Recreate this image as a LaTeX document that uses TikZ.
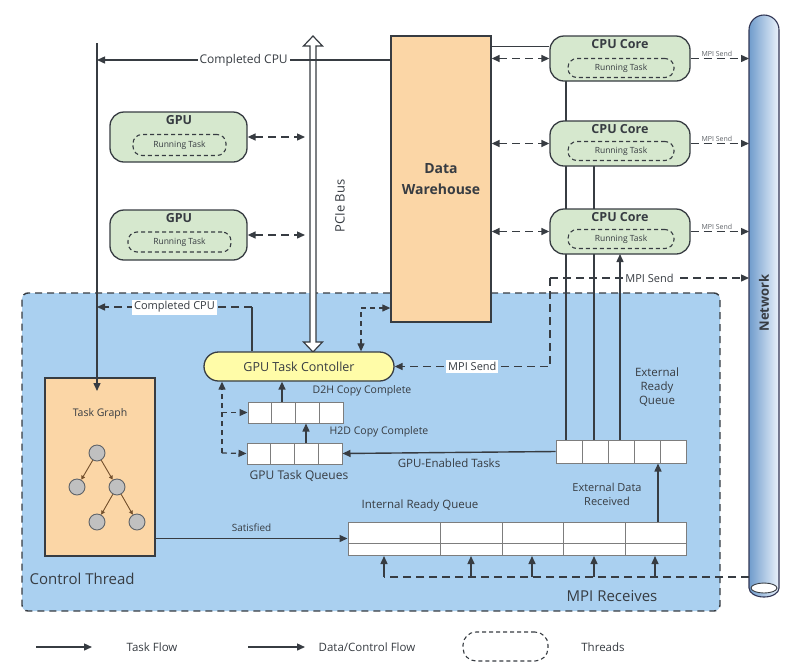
\documentclass[tikz,border=0pt]{standalone}
\usepackage{fontspec}
\setmainfont{Open Sans}
\usetikzlibrary{arrows.meta,calc}
\definecolor{regionblue}{RGB}{170,208,240}
\definecolor{peach}{RGB}{251,214,166}
\definecolor{corefill}{RGB}{214,232,206}
\definecolor{gtcfill}{RGB}{255,252,168}
\definecolor{ink}{RGB}{55,60,66}
\definecolor{cellgray}{RGB}{125,125,125}
\definecolor{netdark}{RGB}{112,156,204}
\definecolor{netlight}{RGB}{234,242,251}
\definecolor{treebrown}{RGB}{115,80,45}
\definecolor{nodegray}{RGB}{192,192,192}
\newcommand\myfs[1]{\fontsize{#1}{\fpeval{1.25*#1}}\selectfont}
\tikzset{
  dashline/.style={dashed, dash pattern=on 8pt off 5pt, line width=1.4pt},
  dashfine/.style={dashed, dash pattern=on 5pt off 4pt, line width=1.2pt},
  procbox/.style={draw=ink, line width=1.3pt, fill=corefill, rounded corners=14pt, inner sep=0pt},
  threadbox/.style={draw=ink, dashed, dash pattern=on 4pt off 3pt, line width=1.1pt, rounded corners=9pt, inner sep=0pt, font=\myfs{8.5}},
  titletext/.style={font=\bfseries\myfs{12.5}, inner sep=0pt},
  qbox/.style={draw=cellgray, line width=1pt, fill=white, inner sep=0pt},
  whitelbl/.style={fill=white, inner sep=2pt},
  tinylbl/.style={font=\myfs{7}, inner sep=1pt, text=ink!80},
  treenode/.style={circle, draw=ink!80, line width=0.9pt, fill=nodegray, minimum size=16pt, inner sep=0pt},
  treeedge/.style={draw=treebrown, line width=0.9pt, -{Triangle[length=4pt,width=4pt]}},
}
\begin{document}
\begin{tikzpicture}[x=1pt,y=-1pt, >={Triangle[length=8pt,width=7pt]}, line width=1.4pt, color=ink]
\useasboundingbox (0,0) rectangle (795,665);

% control thread region
\node[draw=ink, fill=regionblue, dashed, dash pattern=on 7pt off 5pt, line width=1.4pt, rounded corners=6pt, minimum width=698pt, minimum height=318pt, inner sep=0pt] (region) at (371,452) {};
\node[anchor=west, font=\myfs{15}, inner sep=0pt] (ctlabel) at (29,579) {Control Thread};
\node[font=\myfs{15}, inner sep=0pt] (mpirlabel) at (612,596) {MPI Receives};

% data warehouse
\node[draw=ink, fill=peach, line width=1.3pt, minimum width=100pt, minimum height=286pt, inner sep=0pt, align=center, font=\bfseries\myfs{14}] (dw) at (441,179) {Data\\[4pt]Warehouse};

% network tube
\path[draw=ink!90!blue, line width=1.1pt, left color=netdark, right color=netlight]
  (749,30) arc[start angle=180, end angle=360, radius=15] -- (779,588)
  arc[start angle=0, end angle=180, x radius=15, y radius=9] -- cycle;
\draw[line width=0.9pt, fill=white] (764,588) ellipse[x radius=13, y radius=5];
\node[rotate=90, font=\bfseries\myfs{13}] (netlabel) at (764,303) {Network};
\coordinate (netx) at (749,0);

% PCIe bus
\path[draw=ink, fill=white, line width=1.2pt]
  (313,36) -- (322.5,46) -- (316,46) -- (316,342) -- (322.5,342) -- (313,352)
  -- (303.5,342) -- (310,342) -- (310,46) -- (303.5,46) -- cycle;
\coordinate (bus) at (305,0);
\node[rotate=90, font=\myfs{13}] (buslabel) at (340,206) {PCIe Bus};

% GPUs
\node[procbox, minimum width=137pt, minimum height=50pt] (gpu1) at (178.5,137) {};
\node[titletext] (gpu1t) at (179,120) {GPU};
\node[threadbox, minimum width=93pt, minimum height=21pt] (gpu1r) at (179.5,145) {Running Task};
\node[procbox, minimum width=137pt, minimum height=50pt] (gpu2) at (178.5,235) {};
\node[titletext] (gpu2t) at (179,218) {GPU};
\node[threadbox, minimum width=103pt, minimum height=20pt] (gpu2r) at (179.5,242) {Running Task};
\draw[dashline, <->] (gpu1.east) -- (gpu1.east -| bus);
\draw[dashline, <->] (gpu2.east) -- (gpu2.east -| bus);

% vertical lines from CPU cores to external ready queue (behind cores)
\node[qbox, minimum width=130pt, minimum height=23pt] (erq) at (621,451.5) {};
\foreach \x in {582,608,634,660} \draw[cellgray, line width=1pt] (\x,440) -- (\x,463);
\coordinate (l1) at (566,81);
\coordinate (l2) at (594,166);
\coordinate (l3) at (620,254);
\draw (l1) -- (l1 |- erq.north);
\draw (l2) -- (l2 |- erq.north);
\draw[->] (l3 |- erq.north) -- (l3);

% CPU cores
\foreach \i/\y/\r in {1/58.5/68, 2/143.5/151, 3/231.5/239}{
  \node[procbox, minimum width=140pt, minimum height=45pt] (core\i) at (620,\y) {};
  \node[titletext] (core\i t) at (620,\y-14.5) {CPU Core};
  \node[threadbox, minimum width=106pt, minimum height=19pt] (core\i r) at (621,\r) {Running Task};
  \draw[dashline, <->] (core\i.west -| dw.east) -- (core\i.west);
  \draw[dashline, ->] (core\i.east) -- node[tinylbl, above, pos=0.45] {MPI Send} (core\i.east -| netx);
}
\draw ($(dw.north east)+(0,11)$) -- ($(core1.north west)+(0,11)$);

% MPI send path from GTC / network
\coordinate (mpis) at (550,278);

% GPU task controller
\node[draw=ink, line width=1.3pt, fill=gtcfill, rounded corners=14.5pt, minimum width=190pt, minimum height=29pt, font=\myfs{12.5}] (gtc) at (299,366.5) {GPU Task Contoller};

\draw[dashline, ->] (mpis) -- node[whitelbl, pos=0.5, font=\myfs{11}] {MPI Send} (mpis -| netx);
\draw[dashline, ->] (mpis) |- node[whitelbl, pos=0.75, font=\myfs{11}] {MPI Send} (gtc.east);

% task graph
\node[draw=ink, fill=peach, line width=1.3pt, minimum width=110pt, minimum height=178pt, inner sep=0pt] (tg) at (100,467) {};
\node[font=\myfs{10.5}] (tgl) at (100,414) {Task Graph};
\node[treenode] (t1) at (97,453) {};
\node[treenode] (t2) at (77,487) {};
\node[treenode] (t3) at (117,487) {};
\node[treenode] (t4) at (97,522) {};
\node[treenode] (t5) at (137,522) {};
\draw[treeedge] (t1) -- (t2);
\draw[treeedge] (t1) -- (t3);
\draw[treeedge] (t3) -- (t4);
\draw[treeedge] (t3) -- (t5);

% completed CPU (top)
\coordinate (ctop) at (97,43);
\coordinate (ctip) at (97,391);
\draw[->] (ctop) -- (ctip);
\draw[->] (dw.west |- 0,60) -- node[whitelbl, font=\myfs{12}] {Completed CPU} (ctop |- 0,60);

% completed CPU (inner)
\coordinate (cc1) at (252,307);
\draw (gtc.north -| cc1) -- (cc1);
\draw[dashline, ->] (cc1) -- node[whitelbl, pos=0.5, font=\myfs{11}] {Completed CPU} (ctop |- cc1);

% GTC <-> DW
\coordinate (gd) at (361,308);
\draw[dashfine, <->] (gtc.north -| gd) |- (dw.west |- gd);

% GPU queues
\node[qbox, minimum width=95pt, minimum height=21pt] (d2h) at (295.5,412.5) {};
\foreach \x in {271.75,295.5,319.25} \draw[cellgray, line width=1pt] (\x,402) -- (\x,423);
\node[qbox, minimum width=95pt, minimum height=21pt] (gtq) at (294.5,453.5) {};
\foreach \x in {270.75,294.5,318.25} \draw[cellgray, line width=1pt] (\x,443) -- (\x,464);
\coordinate (a1) at (282,0);
\coordinate (a2) at (306,0);
\draw[->] (d2h.north -| a1) -- (gtc.south -| a1);
\draw[->] (gtq.north -| a2) -- (d2h.south -| a2);
\node[anchor=west, font=\myfs{10.5}, inner sep=0pt] (d2hl) at (312,391) {D2H Copy Complete};
\node[anchor=west, font=\myfs{10.5}, inner sep=0pt] (h2dl) at (329,432) {H2D Copy Complete};
\node[font=\myfs{12}, inner sep=0pt] (gtql) at (299,476) {GPU Task Queues};

% dashed side links
\coordinate (sd) at (222,453);
\draw[dashfine, ->] (sd) -- (gtc.south -| sd);
\draw[dashfine, ->] (sd) -- (gtq.west);
\draw[dashfine, ->] (sd |- d2h.west) -- (d2h.west);

% external ready queue links
\draw[->] (erq.west) -- node[below=2pt, font=\myfs{11.5}] {GPU-Enabled Tasks} (gtq.east);
\node[align=center, font=\myfs{11.5}, inner sep=0pt] (erql) at (657,387) {External\\Ready\\Queue};

% internal ready queue
\node[qbox, minimum width=338pt, minimum height=33pt] (irq) at (517,538.5) {};
\foreach \x in {440,502,563,625} \draw[cellgray, line width=1pt] (\x,522) -- (\x,555);
\draw[cellgray, line width=1pt] (348,543) -- (686,543);
\node[font=\myfs{11.5}, inner sep=0pt] (irql) at (420,506) {Internal Ready Queue};
\coordinate (ed) at (658,0);
\draw[->] (irq.north -| ed) -- (erq.south -| ed);
\node[align=center, font=\myfs{11}, inner sep=0pt] (edl) at (607,494) {External Data\\Received};

% satisfied
\draw[->] (tg.east |- irq.west) -- node[above=3pt, font=\myfs{10}] {Satisfied} (irq.west);

% MPI receives
\coordinate (mr) at (384,577);
\draw[dashline] (mr -| netx) -- (mr);
\foreach \x in {384,471,532,594,655} \draw[->] (\x,577) -- (\x,556);

% legend
\coordinate (lg1a) at (36,647); \coordinate (lg1b) at (92,647);
\coordinate (lg2a) at (248,647); \coordinate (lg2b) at (305,647);
\draw[->] (lg1a) -- (lg1b);
\node[font=\myfs{11.5}] (lgt1) at (152,647) {Task Flow};
\draw[->] (lg2a) -- (lg2b);
\node[anchor=west, font=\myfs{11.5}, inner sep=0pt] (lgt2) at (318,647) {Data/Control Flow};
\node[threadbox, minimum width=85pt, minimum height=29pt, rounded corners=13pt] (lgth) at (505.5,646.5) {};
\node[font=\myfs{11.5}] (lgt3) at (603,647) {Threads};
\end{tikzpicture}
\end{document}
